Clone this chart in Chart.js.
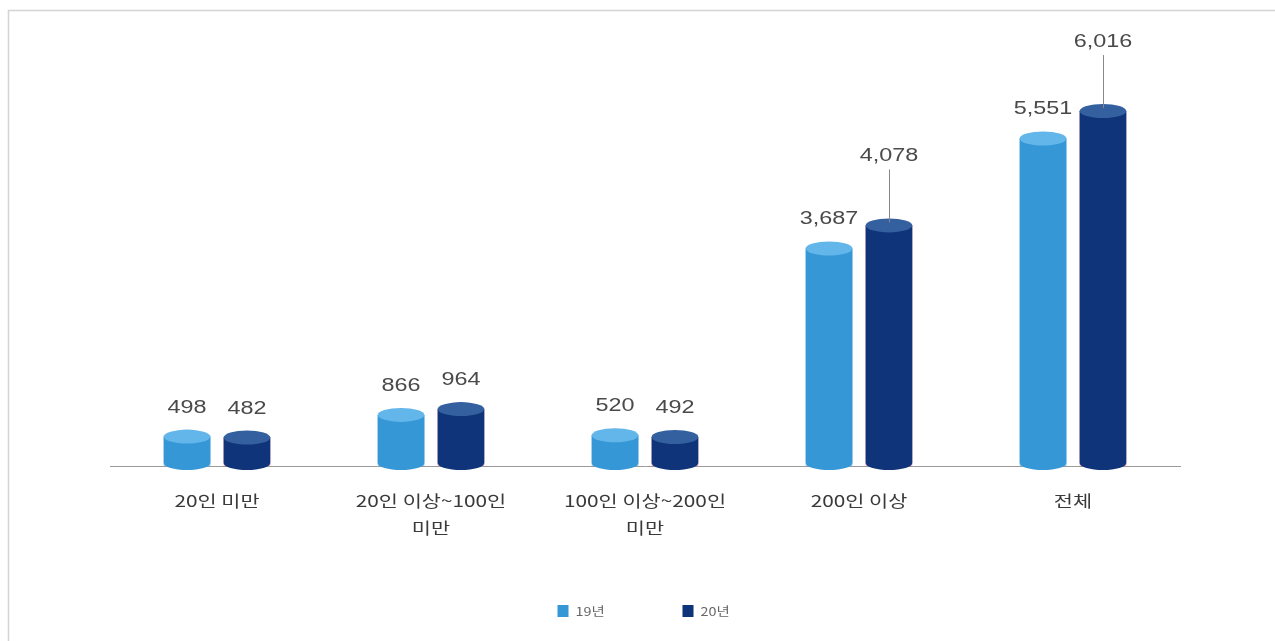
<!DOCTYPE html>
<html lang="ko">
<head>
<meta charset="utf-8">
<title>사업장 규모별 비교</title>
<script src="https://cdn.jsdelivr.net/npm/chart.js@4.4.1/dist/chart.umd.min.js"></script>
<style>
  html, body { margin: 0; padding: 0; background: #fff; }
  #wrap { position: relative; width: 1275px; height: 641px; }
  canvas { display: block; }
</style>
</head>
<body>
<div id="wrap"><canvas id="chart" width="1275" height="641"></canvas></div>
<script>
// Company-size groups (multi-line labels are arrays)
const categories = [
  '20인 미만',
  ['20인 이상~100인', '미만'],
  ['100인 이상~200인', '미만'],
  '200인 이상',
  '전체'
];
const seriesNames = ['19년', '20년'];
const values19 = [498, 866, 520, 3687, 5551];
const values20 = [482, 964, 492, 4078, 6016];

// Cylinder colours: body, top cap
const bodyColors = ['#3597d6', '#0f3479'];
const capColors = ['#62b6ea', '#35609f'];
const VALUE_FONT = '18px "Liberation Sans", "Noto Sans", sans-serif';
const TICK_FONT = '16px "Noto Sans CJK KR", sans-serif';
const LEGEND_FONT = '12px "Noto Sans CJK KR", sans-serif';
const TEXT_STRETCH = 1.3;   // wide lettering used throughout the chart

// Horizontally stretched text helper
function wideText(ctx, text, x, y, stretch) {
  ctx.save();
  ctx.translate(x, y);
  ctx.scale(stretch, 1);
  ctx.fillText(text, 0, 0);
  ctx.restore();
}

// Panel frame lines (top and left edges)
const framePlugin = {
  id: 'frame',
  beforeDraw(chart) {
    const ctx = chart.ctx;
    ctx.save();
    ctx.strokeStyle = '#d4d4d4';
    ctx.lineWidth = 1.5;
    ctx.beginPath();
    ctx.moveTo(8.5, 641);
    ctx.lineTo(8.5, 10.5);
    ctx.lineTo(1275, 10.5);
    ctx.stroke();
    ctx.restore();
  }
};

// Each bar drawn as a cylinder: rounded bottom, body, lighter top cap
const cylinderPlugin = {
  id: 'cylinder',
  afterDatasetsDraw(chart) {
    const ctx = chart.ctx;
    chart.data.datasets.forEach((ds, di) => {
      const meta = chart.getDatasetMeta(di);
      meta.data.forEach((bar) => {
        const { x, y, base, width } = bar.getProps(['x', 'y', 'base', 'width'], true);
        const rx = width / 2;
        const ry = 7;
        ctx.save();
        ctx.fillStyle = bodyColors[di];
        ctx.beginPath();
        ctx.moveTo(x - rx, y);
        ctx.lineTo(x - rx, base - 3);
        ctx.ellipse(x, base - 3, rx, ry, 0, Math.PI, 0, true);
        ctx.lineTo(x + rx, y);
        ctx.closePath();
        ctx.fill();
        ctx.fillStyle = capColors[di];
        ctx.beginPath();
        ctx.ellipse(x, y, rx, ry, 0, 0, Math.PI * 2);
        ctx.fill();
        ctx.restore();
      });
    });
  }
};

// Value labels above each cylinder; the tall 20년 bars get a leader line
const valueLabelPlugin = {
  id: 'valueLabels',
  afterDatasetsDraw(chart) {
    const ctx = chart.ctx;
    ctx.save();
    ctx.font = VALUE_FONT;
    ctx.fillStyle = '#4a4a4a';
    ctx.textAlign = 'center';
    ctx.textBaseline = 'middle';
    chart.data.datasets.forEach((ds, di) => {
      const meta = chart.getDatasetMeta(di);
      meta.data.forEach((bar, i) => {
        const v = ds.data[i];
        const { x, y } = bar.getProps(['x', 'y'], true);
        const top = y - 7;
        const leader = di === 1 && v > 3000;
        const ly = leader ? top - 62 : top - 22;
        if (leader) {
          ctx.strokeStyle = '#888';
          ctx.lineWidth = 1;
          ctx.beginPath();
          ctx.moveTo(Math.round(x) + 0.5, ly + 13);
          ctx.lineTo(Math.round(x) + 0.5, top + 4);
          ctx.stroke();
        }
        wideText(ctx, v.toLocaleString('en-US'), x, ly, TEXT_STRETCH);
      });
    });
    ctx.restore();
  }
};

// Category labels under the axis line
const categoryLabelPlugin = {
  id: 'categoryLabels',
  afterDraw(chart) {
    const ctx = chart.ctx;
    const xs = chart.scales.x;
    ctx.save();
    ctx.font = TICK_FONT;
    ctx.fillStyle = '#3a3a3a';
    ctx.textAlign = 'center';
    ctx.textBaseline = 'middle';
    chart.data.labels.forEach((lab, i) => {
      const lines = Array.isArray(lab) ? lab : [lab];
      const cx = xs.getPixelForTick(i);
      lines.forEach((line, k) => {
        wideText(ctx, line, cx, xs.top + 35 + k * 27, TEXT_STRETCH);
      });
    });
    ctx.restore();
  }
};

// Legend row centred under the chart
const legendPlugin = {
  id: 'customLegend',
  afterDraw(chart) {
    const ctx = chart.ctx;
    const cy = 611;
    const starts = [chart.width / 2 - 80, chart.width / 2 + 45];
    ctx.save();
    ctx.font = LEGEND_FONT;
    ctx.textAlign = 'left';
    ctx.textBaseline = 'middle';
    chart.data.datasets.forEach((ds, di) => {
      const x0 = starts[di];
      ctx.fillStyle = bodyColors[di];
      ctx.fillRect(x0, cy - 6, 11, 12);
      ctx.fillStyle = '#666';
      wideText(ctx, ds.label, x0 + 18, cy, 1.2);
    });
    ctx.restore();
  }
};

new Chart(document.getElementById('chart'), {
  type: 'bar',
  data: {
    labels: categories,
    datasets: [
      { label: seriesNames[0], data: values19 },
      { label: seriesNames[1], data: values20 }
    ]
  },
  options: {
    responsive: false,
    animation: false,
    events: [],
    layout: { padding: { left: 110, right: 95, top: 53, bottom: 55 } },
    categoryPercentage: 0.56,
    barPercentage: 0.78,
    datasets: { bar: { borderWidth: 0, backgroundColor: 'rgba(0,0,0,0)' } },
    scales: {
      y: { display: false, min: 0, max: 7000 },
      x: {
        grid: { display: false },
        border: { display: true, color: '#9a9a9a', width: 1 },
        ticks: { display: false },
        afterFit(scale) { scale.height = 120; }
      }
    },
    plugins: {
      legend: { display: false },
      tooltip: { enabled: false }
    }
  },
  plugins: [framePlugin, cylinderPlugin, valueLabelPlugin, categoryLabelPlugin, legendPlugin]
});
</script>
</body>
</html>
